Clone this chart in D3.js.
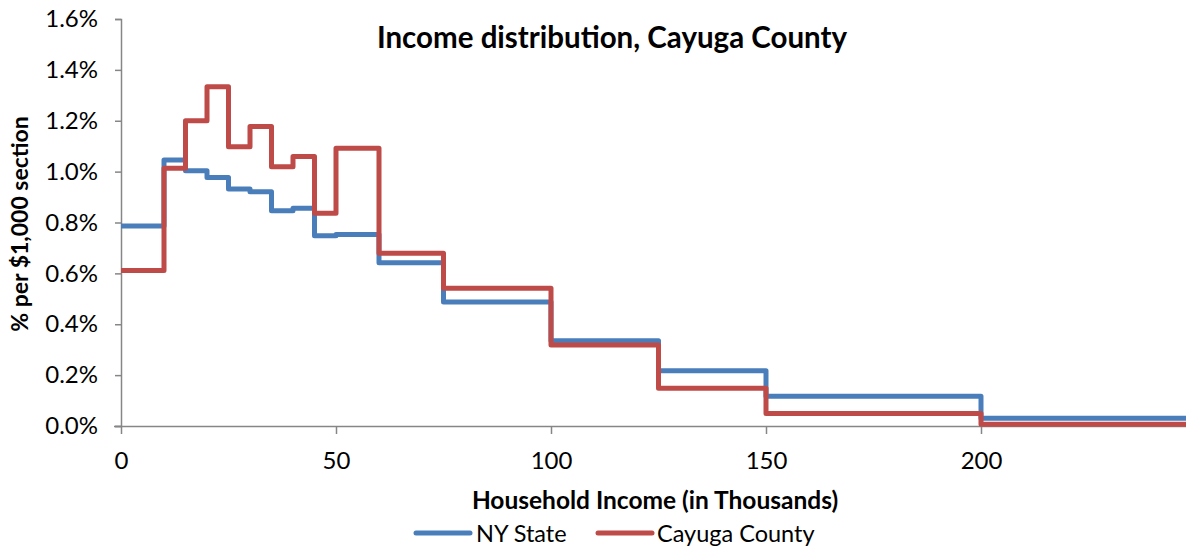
<!DOCTYPE html>
<html>
<head>
<meta charset="utf-8">
<script src="https://cdn.jsdelivr.net/npm/d3@7/dist/d3.min.js"></script>
<style>
  html, body { margin: 0; padding: 0; background: #fff; }
  svg { display: block; }
  text { font-family: Lato, "Open Sans", sans-serif; fill: #000; }
</style>
</head>
<body>
<svg id="chart" width="1186" height="548"></svg>
<script>
// Bracket lower bounds (thousands of dollars)
const bracketStarts = [0, 10, 15, 20, 25, 30, 35, 40, 45, 50, 60, 75, 100, 125, 150, 200];
const bracketEnd = 250;
// % per $1,000 section
const nyState = [0.786, 1.046, 1.003, 0.977, 0.932, 0.921, 0.846, 0.856, 0.748, 0.753, 0.642, 0.487, 0.335, 0.217, 0.117, 0.030];
const cayuga  = [0.611, 1.013, 1.200, 1.334, 1.098, 1.177, 1.019, 1.059, 0.836, 1.092, 0.679, 0.542, 0.318, 0.148, 0.049, 0.007];
const seriesNames = ["NY State", "Cayuga County"];
const xTicks = [0, 50, 100, 150, 200];
const yTicks = [0, 0.2, 0.4, 0.6, 0.8, 1.0, 1.2, 1.4, 1.6];
const title = "Income distribution, Cayuga County";
const xTitle = "Household Income (in Thousands)";
const yTitle = "% per $1,000 section";

const svg = d3.select("#chart");
const x = d3.scaleLinear().domain([0, 250]).range([121, 121 + 250 * 4.3]);
const y = d3.scaleLinear().domain([0, 1.6]).range([426, 19]);
const axisColor = "#868686";
const colors = ["#4a7ebb", "#be4b48"];

// Y axis
const yAxis = svg.append("g").attr("transform", `translate(${x(0)},0)`)
  .call(d3.axisLeft(y).tickValues(yTicks).tickSize(6).tickPadding(17).tickFormat(d => d.toFixed(1) + "%"));
yAxis.select(".domain").attr("stroke", axisColor).attr("stroke-width", 1.5);
yAxis.selectAll(".tick line").attr("stroke", axisColor).attr("stroke-width", 1.5);
yAxis.selectAll(".tick text").attr("font-size", 24).attr("font-family", "Lato").attr("fill", "#000");

// X axis
const xAxis = svg.append("g").attr("transform", `translate(0,${y(0)})`)
  .call(d3.axisBottom(x).tickValues(xTicks).tickSize(8).tickPadding(18).tickFormat(d3.format("d")));
xAxis.select(".domain").attr("stroke", axisColor).attr("stroke-width", 1.5)
  .attr("d", `M${x(0) - 7},0.5H${x(bracketEnd)}`);
xAxis.selectAll(".tick line").attr("stroke", axisColor).attr("stroke-width", 1.5);
xAxis.selectAll(".tick text").attr("font-size", 24).attr("font-family", "Lato").attr("fill", "#000");

// Lines
const line = d3.line().x(d => x(d[0])).y(d => y(d[1])).curve(d3.curveStepAfter);
[nyState, cayuga].forEach((vals, i) => {
  const pts = bracketStarts.map((b, j) => [b, vals[j]]);
  pts.push([bracketEnd, vals[vals.length - 1]]);
  svg.append("path").datum(pts)
    .attr("d", line)
    .attr("fill", "none")
    .attr("stroke", colors[i])
    .attr("stroke-width", 5)
    .attr("stroke-linejoin", "round");
});

// Title
svg.append("text").attr("x", 612).attr("y", 48).attr("text-anchor", "middle")
  .attr("font-size", 29.5).attr("font-weight", "bold").text(title);

// Axis titles
svg.append("text").attr("x", 655).attr("y", 509).attr("text-anchor", "middle")
  .attr("font-size", 24.5).attr("font-weight", "bold").text(xTitle);
svg.append("text").attr("transform", "translate(28,224) rotate(-90)").attr("text-anchor", "middle")
  .attr("font-size", 23).attr("font-weight", "bold").text(yTitle);

// Legend
const legendItems = [{x0: 416, x1: 470, tx: 476}, {x0: 598, x1: 652, tx: 657}];
legendItems.forEach((it, i) => {
  svg.append("line").attr("x1", it.x0).attr("x2", it.x1).attr("y1", 533).attr("y2", 533)
    .attr("stroke", colors[i]).attr("stroke-width", 5).attr("stroke-linecap", "round");
  svg.append("text").attr("x", it.tx).attr("y", 542).attr("font-size", 23.5).text(seriesNames[i]);
});
</script>
</body>
</html>
